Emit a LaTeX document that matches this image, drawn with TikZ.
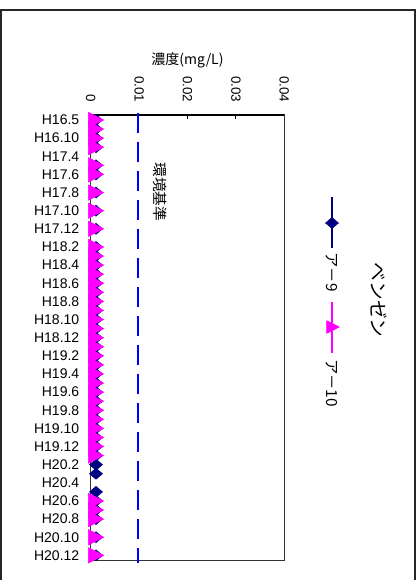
\documentclass[tikz,border=0pt]{standalone}
\usepackage{fontspec}
\setmainfont{Liberation Sans}
\newfontfamily\jpfont{Noto Sans CJK JP}
\usetikzlibrary{calc}
\definecolor{arnavy}{RGB}{0,0,128}
\definecolor{armagenta}{RGB}{255,0,255}
\definecolor{arblue}{RGB}{0,0,255}
\def\diamark(#1,#2){\draw[fill=arnavy,draw=arnavy] ($(#1,#2)+(-6.5,0)$) -- ($(#1,#2)+(0,-5.5)$) -- ($(#1,#2)+(6.5,0)$) -- ($(#1,#2)+(0,5.5)$) -- cycle;}
\def\trimark(#1,#2:#3){\draw[fill=armagenta,draw=armagenta] ($(#1,#2)+(-#3,-#3)$) -- ($(#1,#2)+(#3,0)$) -- ($(#1,#2)+(-#3,#3)$) -- cycle;}

\begin{document}
\begin{tikzpicture}[x=0.75pt,y=-0.75pt]
	%%%%% START %%%%%
	
	\useasboundingbox (0,0) rectangle (418,580);
	\draw[line width=1.1pt, black!85] (0.8,590) -- (0.8,10) -- (415,10) -- (415,590);
	
	% plot area
	\draw[line width=0.9pt, black!80] (90.7,115) rectangle (284.3,560.7);
	\draw[line width=1pt] (90.7,115) -- (284.3,115);
	\draw[line width=0.8pt] (187.5,115) -- (187.5,119);
	\draw[line width=0.8pt] (235.9,115) -- (235.9,119);
	
	\node[font=\jpfont\fontsize{10.5}{12}\selectfont, inner sep=0pt] (ytitle) at (187.5,60) {濃度(mg/L)};
	\foreach \v [count=\i from 0] in {0,0.01,0.02,0.03,0.04}
		\node[rotate=-90, anchor=east, inner sep=0pt, font=\fontsize{10}{12}\selectfont] (tick\i) at ({90.7+48.4*\i},102.5) {\v};
	
	\foreach \lab [count=\i from 0] in {H16.5,H16.10,H17.4,H17.6,H17.8,H17.10,H17.12,H18.2,H18.4,H18.6,H18.8,H18.10,H18.12,H19.2,H19.4,H19.6,H19.8,H19.10,H19.12,H20.2,H20.4,H20.6,H20.8,H20.10,H20.12}
		\node[anchor=east, inner sep=0pt, font=\fontsize{10.5}{12}\selectfont] (cat\i) at (79.5,{120+18.14*\i}) {\lab};
	
	% standard
	\draw[arblue, line width=1.9pt, dash pattern=on 15pt off 6.75pt] (138.1,113) -- (138.1,563);
	\node[rotate=-90, inner sep=0pt, font=\jpfont\fontsize{11}{12}\selectfont] (std) at (160,192) {環境基準};
	
	% series lines
	\draw[arnavy, line width=1.5pt] (96,120) -- (96,{120+9.07*3});
	\draw[arnavy, line width=1.5pt] (96,{120+9.07*5}) -- (96,{120+9.07*6});
	\draw[arnavy, line width=1.5pt] (96,{120+9.07*14}) -- (96,{120+9.07*39});
	\draw[arnavy, line width=1.5pt] (96,{120+9.07*41}) -- (96,{120+9.07*44});
	\draw[armagenta, line width=1.5pt] (96,120) -- (96,{120+9.07*3});
	\draw[armagenta, line width=1.5pt] (96,{120+9.07*5}) -- (96,{120+9.07*6});
	\draw[armagenta, line width=1.5pt] (96,{120+9.07*14}) -- (96,{120+9.07*37});
	\draw[armagenta, line width=1.5pt] (96,{120+9.07*42}) -- (96,{120+9.07*44});
	
	\foreach \k in {0,1,2,3,5,6,8,10,12,14,15,...,39,41,42,43,44,46,48}{
		\pgfmathsetmacro\yk{120+9.07*\k}
		\diamark(96,\yk)
	}
	\foreach \k in {0,1,2,3,5,6,8,10,12,14,15,...,37,42,43,44,46,48}{
		\pgfmathsetmacro\yk{120+9.07*\k}
		\trimark(96,\yk:7.7)
	}
	
	% legend
	\node[rotate=-90, inner sep=0pt, font=\jpfont\fontsize{14}{16}\selectfont] (ltitle) at (379,300) {ベンゼン};
	\draw[arnavy, line width=2pt] (332,197) -- (332,248);
	\diamark(332,223)
	\node[rotate=-90, inner sep=0pt, font=\jpfont\fontsize{11.5}{12}\selectfont] (lab9) at (332,272) {ア－9};
	\draw[armagenta, line width=2pt] (332,302) -- (332,353);
	\trimark(333,327:6.3)
	\node[rotate=-90, inner sep=0pt, font=\jpfont\fontsize{11.5}{12}\selectfont] (lab10) at (332,383) {ア－10};
	
	%%%%% END %%%%%
\end{tikzpicture}
\end{document}
